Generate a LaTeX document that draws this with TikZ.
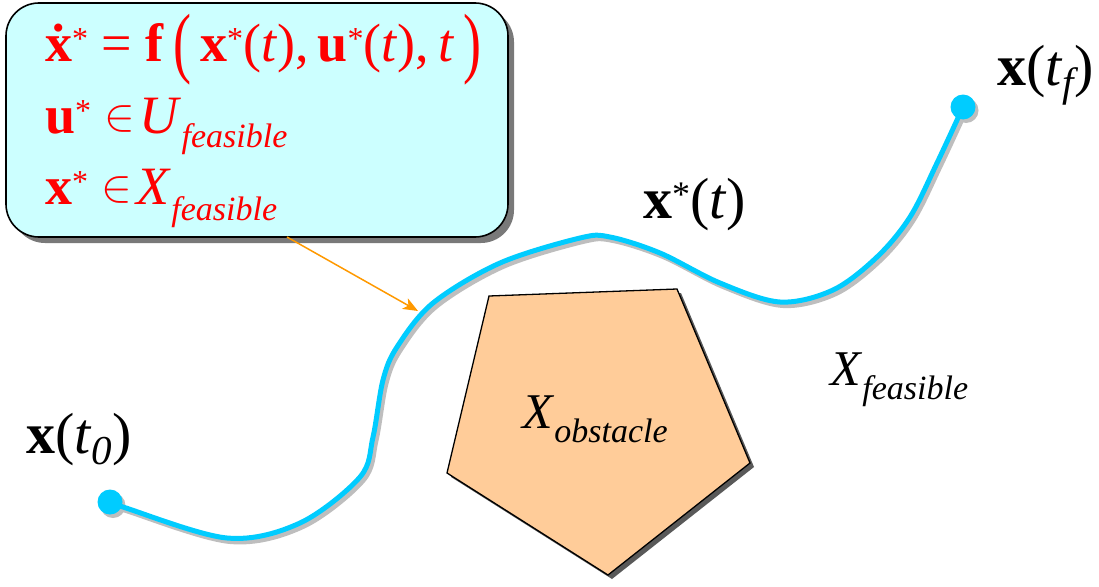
\documentclass[tikz,border=0pt]{standalone}
\usepackage{fontspec}
\setmainfont{Liberation Serif}
\usepackage{graphicx}
\usetikzlibrary{arrows.meta,shadows}
\definecolor{boxfill}{HTML}{CCFFFF}
\definecolor{traj}{HTML}{00CCFF}
\definecolor{trajshadow}{HTML}{BEBEBE}
\definecolor{obst}{HTML}{FFCC99}
\definecolor{arrcol}{HTML}{FF9900}
\newcommand\supst{\raisebox{0.22em}{\fontsize{32}{32}\selectfont *}}
\newcommand\subtx[3][-0.27em]{\raisebox{#1}{\fontsize{#2}{#2}\selectfont\itshape #3}}
\newcommand\bx{\textbf{x}}
\newcommand\bu{\textbf{u}}
\newcommand\bigp[1]{\raisebox{-0.14em}{\scalebox{1}[1.45]{#1}}}
\newcommand\elem{\raisebox{0.05em}{\scalebox{4.6}{\fontsize{10}{12}\selectfont$\in$}}}
\begin{document}
\begin{tikzpicture}[x=1pt,y=-1pt,
  lbl/.style={inner sep=0pt, anchor=base west, font=\fontsize{58}{64}\selectfont},
  eqn/.style={lbl, text=red, font=\fontsize{54}{60}\selectfont},
  trajline/.style={draw=traj, line width=5pt, line cap=round},
  trajsh/.style={draw=trajshadow, line width=5pt, line cap=round},
  dot/.style={circle, fill=traj, minimum size=25pt, inner sep=0pt},
  dotsh/.style={circle, fill=trajshadow, minimum size=25pt, inner sep=0pt}]
\useasboundingbox (0,0) rectangle (1099,586);

% constraint box
\node[draw=black, line width=1.6pt, fill=boxfill, rounded corners=33pt,
      minimum width=502pt, minimum height=234pt, inner sep=0pt,
      drop shadow={shadow xshift=6pt, shadow yshift=-6pt, fill=gray!95!black, opacity=1}]
      (box) at (257,120) {};

\node[eqn] (eq1) at (45,61) {\bfseries\.x\mdseries\supst\ =\ \textbf{f}\,\bigp{(}\,\bx\supst(\textit{t}),\,\bu\supst(\textit{t}),\,\textit{t}\,\bigp{)}};
\node[eqn] (eq2) at (45,133) {\bu\supst\hspace{0.25em}\elem\hspace{0.08em}\textit{U}\subtx{34}{feasible}};
\node[eqn] (eq3) at (45,204) {\bx\supst\hspace{0.25em}\elem\hspace{0.08em}\textit{X}\subtx[-0.3em]{34}{feasible}};

% obstacle
\fill[gray!70!black, shift={(4,4)}] (489,296) -- (677,289) -- (750,463) -- (608,575) -- (447,473) -- cycle;
\draw[line width=1.3pt, fill=obst] (489,296) -- (677,289) -- (750,463) -- (608,575) -- (447,473) -- cycle;
\node[lbl, font=\fontsize{50}{60}\selectfont] (xobs) at (522,428) {\textit{X}\subtx[-0.28em]{34}{obstacle}};

% trajectory
\coordinate (start) at (110,502);
\coordinate (end) at (963,107);
\begin{scope}[shift={(3,3.5)}]
\draw[trajsh] plot[smooth, tension=0.55] coordinates {(110,502) (123,507) (227,538) (300,523) (360,477) (373,437) (383,380) (397,347) (433,303) (500,263) (580,238) (610,237) (660,253) (720,283) (780,302) (833,290) (877,257) (910,217) (937,163) (963,107)};
\node[dotsh] at (110,502) {};
\node[dotsh] at (963,107) {};
\end{scope}
\draw[trajline] plot[smooth, tension=0.55] coordinates {(110,502) (123,507) (227,538) (300,523) (360,477) (373,437) (383,380) (397,347) (433,303) (500,263) (580,238) (610,237) (660,253) (720,283) (780,302) (833,290) (877,257) (910,217) (937,163) (963,107)};
\node[dot] (p0) at (start) {};
\node[dot] (pf) at (end) {};

% arrow from box to trajectory
\coordinate (arrtail) at (287,237);
\coordinate (arrhead) at (418,311);
\draw[arrcol, line width=1.5pt, -{Stealth[length=15pt, width=12pt, inset=4pt]}] (arrtail) -- (arrhead);

% labels
\node[lbl] (x0) at (26,453) {\bx(\textit{t}\subtx[-0.2em]{41}{0})};
\node[lbl] (xf) at (997,85) {\bx(\textit{t}\subtx[-0.2em]{41}{f})};
\node[lbl] (xs) at (643,218) {\bx\raisebox{0.2em}{\fontsize{36}{36}\selectfont *}(\textit{t})};
\node[lbl, font=\fontsize{50}{60}\selectfont] (xfeas) at (830,385) {\textit{X}\subtx[-0.28em]{34}{feasible}};
\end{tikzpicture}
\end{document}
